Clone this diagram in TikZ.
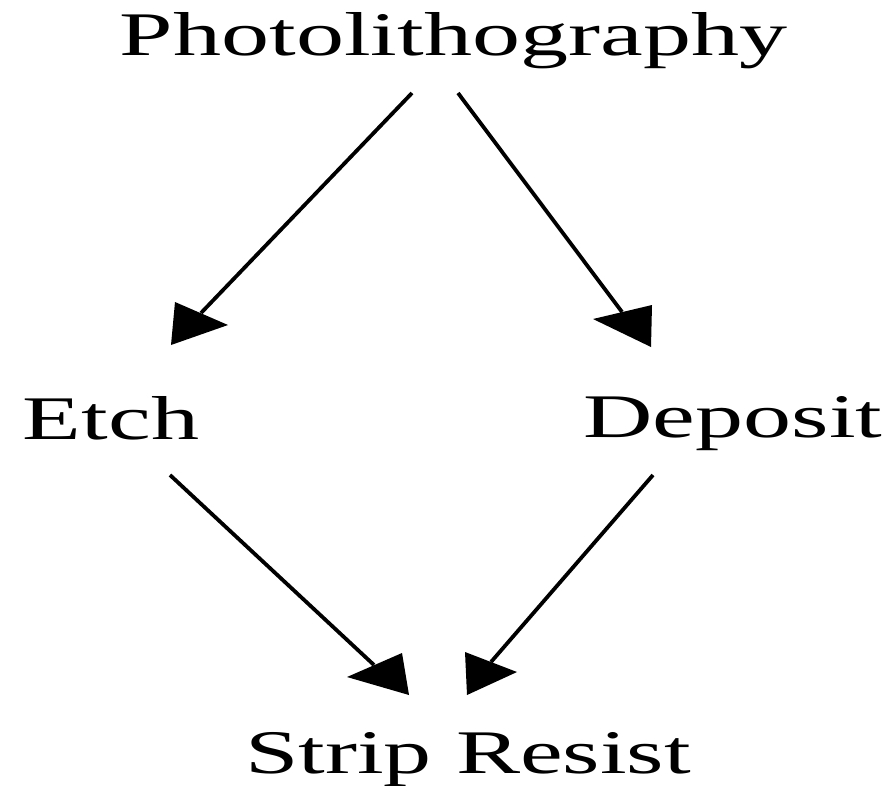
\documentclass[tikz,border=0pt]{standalone}
\usepackage{graphicx}
\usepackage{fontspec}
\setmainfont{Liberation Serif}
\tikzset{
  lbl/.style={inner sep=0pt, outer sep=0pt, anchor=base, font=\fontsize{62}{70}\selectfont},
  conn/.style={line width=3.8pt, black},
  headfill/.style={fill=black, draw=none},
}
\newcommand{\widetext}[1]{\scalebox{1.55}[1]{#1}}
\begin{document}
\begin{tikzpicture}[x=1pt,y=-1pt]
\useasboundingbox (0,0) rectangle (893,785);
% labels
\node[lbl] (photo) at (453.5,55) {\widetext{Photolithography}};
\node[lbl] (etch) at (111,439) {\widetext{Etch}};
\node[lbl] (deposit) at (733,437) {\widetext{Deposit}};
\node[lbl] (strip) at (468,773) {\widetext{Strip Resist}};
% connector ends
\coordinate (pe) at (412,93);
\coordinate (ep) at (201,313);
\coordinate (pd) at (458,93);
\coordinate (dp) at (622,312);
\coordinate (es) at (170,475);
\coordinate (se) at (374,665);
\coordinate (ds) at (653,475);
\coordinate (sd) at (491,662);
% connectors
\draw[conn] (pe) -- (ep);
\draw[conn] (pd) -- (dp);
\draw[conn] (es) -- (se);
\draw[conn] (ds) -- (sd);
% arrowheads
\fill[headfill] (175,302) -- (228,325) -- (171,345) -- cycle;
\fill[headfill] (593,319) -- (652,305) -- (651,347) -- cycle;
\fill[headfill] (347,677) -- (402,653) -- (409,695) -- cycle;
\fill[headfill] (465,652) -- (517,672) -- (467,695) -- cycle;
\end{tikzpicture}
\end{document}
